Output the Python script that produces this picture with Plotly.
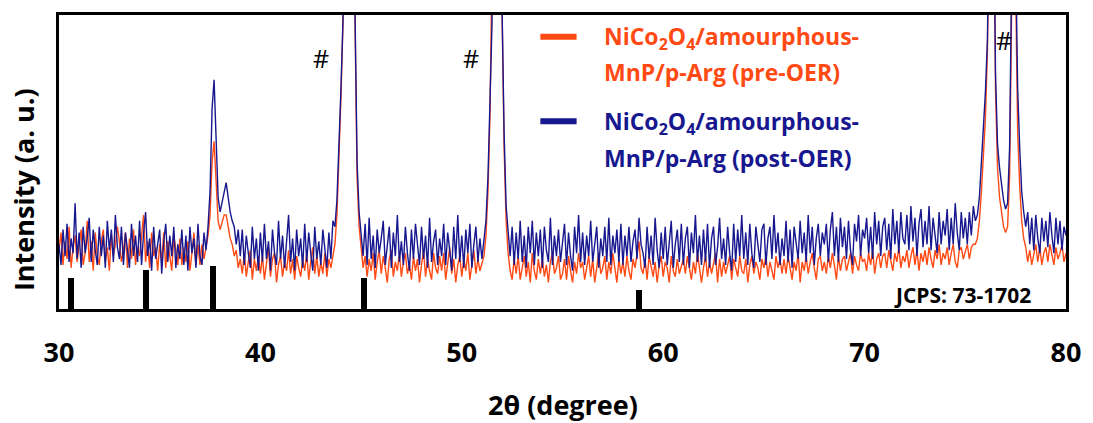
import numpy as np
import plotly.graph_objects as go

# 2-theta grid (degrees), 0.1 degree step
two_theta = np.round(np.arange(30.0, 80.0001, 0.1), 1)

# Intensity (a. u.), post-OER sample
post_oer = [
    22, 15, 27, 18, 29, 16, 24, 19, 36, 17,   # 30
    26, 14, 28, 19, 24, 31, 16, 27, 20, 15,   # 31
    28, 18, 25, 14, 30, 20, 27, 16, 32, 21,   # 32
    17, 28, 15, 26, 20, 14, 29, 18, 25, 16,   # 33
    30, 15, 26, 33, 18, 24, 13, 28, 17, 23,   # 34
    27, 12, 23, 29, 16, 25, 18, 28, 14, 22,   # 35
    17, 27, 15, 25, 13, 28, 19, 24, 14, 29,   # 36
    18, 15, 26, 20, 28, 40, 68, 78, 60, 38,   # 37
    33, 36, 40, 43, 38, 33, 30, 28, 22, 27,   # 38
    18, 27, 15, 25, 19, 14, 28, 17, 24, 13,   # 39
    26, 16, 29, 17, 23, 13, 27, 19, 15, 30,   # 40
    17, 25, 14, 22, 32, 16, 24, 13, 27, 18,   # 41
    24, 14, 29, 16, 26, 19, 13, 28, 17, 23,   # 42
    15, 27, 19, 14, 26, 17, 30, 28, 37, 55,   # 43
    75, 98, 180, 260, 280, 240, 150, 90, 50, 33,  # 44
    26, 18, 29, 15, 31, 17, 25, 14, 27, 19,   # 45
    24, 30, 15, 22, 28, 14, 26, 18, 32, 16,   # 46
    23, 15, 28, 19, 13, 27, 17, 29, 21, 15,   # 47
    28, 17, 25, 14, 31, 16, 23, 27, 15, 24,   # 48
    18, 29, 15, 26, 20, 13, 28, 17, 32, 16,   # 49
    25, 14, 27, 19, 29, 14, 22, 28, 16, 24,   # 50
    17, 24, 30, 45, 70, 97, 180, 260, 270, 220,  # 51
    102, 60, 35, 26, 18, 28, 15, 26, 17, 30,  # 52
    16, 25, 14, 28, 19, 30, 15, 26, 18, 27,   # 53
    14, 28, 20, 16, 31, 15, 25, 18, 27, 16,   # 54
    22, 29, 15, 26, 18, 13, 28, 19, 32, 16,   # 55
    26, 15, 25, 18, 30, 16, 22, 28, 14, 24,   # 56
    18, 28, 16, 31, 15, 25, 19, 27, 16, 29,   # 57
    15, 25, 18, 28, 16, 23, 27, 17, 31, 22,   # 58
    19, 14, 28, 17, 25, 15, 31, 20, 14, 26,   # 59
    17, 28, 15, 24, 30, 14, 22, 27, 16, 29,   # 60
    15, 24, 28, 14, 26, 19, 32, 16, 25, 15,   # 61
    27, 16, 29, 14, 24, 28, 15, 21, 31, 17,   # 62
    24, 15, 28, 19, 13, 29, 16, 27, 18, 32,   # 63
    17, 26, 15, 29, 19, 14, 28, 22, 16, 27,   # 64
    29, 15, 24, 28, 17, 32, 19, 26, 15, 24,   # 65
    18, 30, 16, 27, 14, 28, 22, 17, 30, 19,   # 66
    26, 16, 32, 19, 28, 15, 24, 29, 18, 26,   # 67
    22, 29, 16, 27, 33, 18, 28, 16, 31, 21,   # 68
    28, 17, 30, 20, 15, 29, 23, 32, 18, 27,   # 69
    24, 31, 19, 28, 17, 33, 22, 30, 18, 28,   # 70
    31, 20, 29, 17, 34, 22, 30, 19, 33, 24,   # 71
    22, 32, 20, 35, 23, 31, 18, 29, 34, 21,   # 72
    30, 22, 35, 20, 31, 25, 19, 33, 22, 30,   # 73
    25, 34, 20, 31, 22, 36, 26, 20, 33, 24,   # 74
    31, 22, 33, 25, 35, 30, 32, 38, 50, 62,   # 75
    74, 92, 150, 200, 150, 80, 56, 48, 42, 37,  # 76
    34, 36, 55, 110, 170, 120, 75, 55, 40, 33,  # 77
    28, 33, 22, 31, 20, 32, 24, 19, 31, 23,   # 78
    30, 21, 33, 25, 19, 31, 22, 30, 20, 28,   # 79
    25,                                       # 80
]

# Intensity (a. u.), pre-OER sample
pre_oer = [
    20, 26, 15, 23, 17, 28, 14, 21, 25, 16,   # 30
    22, 27, 15, 19, 30, 16, 23, 13, 26, 18,   # 31
    15, 23, 27, 16, 21, 13, 25, 18, 22, 28,   # 32
    23, 16, 20, 26, 14, 24, 17, 27, 15, 21,   # 33
    18, 25, 32, 16, 23, 14, 26, 18, 21, 13,   # 34
    22, 16, 26, 14, 23, 18, 13, 25, 20, 15,   # 35
    24, 15, 21, 16, 23, 13, 19, 26, 15, 22,   # 36
    15, 22, 17, 21, 25, 32, 50, 57, 45, 30,   # 37
    27, 30, 32, 32, 28, 24, 22, 18, 20, 14,   # 38
    17, 12, 19, 11, 16, 20, 10, 17, 13, 18,   # 39
    12, 18, 10, 16, 21, 11, 17, 19, 9, 15,    # 40
    18, 11, 16, 13, 20, 12, 17, 10, 18, 14,   # 41
    11, 17, 13, 19, 10, 16, 21, 12, 18, 11,   # 42
    16, 12, 19, 11, 17, 14, 18, 22, 32, 50,   # 43
    72, 97, 180, 260, 280, 240, 150, 88, 45, 28,  # 44
    20, 14, 18, 11, 17, 13, 19, 10, 16, 20,   # 45
    12, 18, 14, 9, 17, 20, 11, 16, 13, 19,    # 46
    11, 16, 19, 12, 15, 10, 18, 13, 17, 9,    # 47
    15, 20, 11, 17, 13, 10, 19, 14, 12, 18,   # 48
    13, 19, 10, 16, 21, 12, 17, 9, 15, 18,    # 49
    11, 17, 13, 19, 10, 15, 20, 12, 17, 13,   # 50
    16, 18, 25, 40, 66, 96, 180, 260, 270, 220,  # 51
    101, 55, 30, 19, 13, 10, 17, 12, 18, 10,  # 52
    14, 18, 11, 16, 9, 19, 13, 10, 17, 12,    # 53
    17, 11, 15, 9, 16, 19, 12, 14, 18, 10,    # 54
    12, 17, 10, 18, 13, 9, 16, 12, 19, 14,    # 55
    16, 10, 14, 18, 11, 17, 9, 15, 19, 12,    # 56
    14, 18, 10, 16, 12, 19, 13, 9, 17, 12,    # 57
    16, 11, 18, 13, 10, 17, 14, 19, 23, 14,   # 58
    12, 17, 10, 18, 14, 11, 16, 9, 15, 18,    # 59
    11, 16, 14, 9, 18, 13, 11, 17, 12, 15,    # 60
    17, 12, 18, 14, 10, 16, 12, 19, 14, 9,    # 61
    14, 18, 11, 16, 12, 15, 19, 9, 17, 11,    # 62
    16, 12, 15, 18, 10, 17, 14, 11, 18, 13,   # 63
    12, 17, 9, 15, 18, 12, 16, 14, 10, 17,    # 64
    14, 18, 11, 16, 13, 10, 18, 14, 17, 12,   # 65
    17, 12, 18, 14, 10, 16, 13, 19, 9, 16,    # 66
    13, 18, 12, 16, 19, 14, 10, 17, 18, 13,   # 67
    16, 12, 18, 14, 19, 15, 10, 18, 13, 17,   # 68
    18, 13, 16, 19, 12, 18, 15, 13, 19, 16,   # 69
    17, 13, 19, 15, 20, 12, 17, 19, 14, 18,   # 70
    19, 14, 20, 16, 13, 19, 16, 21, 14, 18,   # 71
    16, 20, 14, 18, 21, 15, 20, 13, 19, 16,   # 72
    20, 15, 21, 17, 14, 20, 17, 22, 15, 19,   # 73
    17, 21, 15, 19, 22, 16, 14, 20, 21, 17,   # 74
    20, 22, 17, 21, 22, 22, 24, 30, 40, 52,   # 75
    65, 88, 150, 200, 150, 75, 48, 38, 32, 28,  # 76
    26, 28, 45, 105, 160, 110, 60, 42, 30, 24,  # 77
    21, 16, 20, 15, 19, 22, 16, 21, 15, 19,   # 78
    21, 16, 22, 18, 15, 21, 17, 19, 22, 16,   # 79
    19,                                       # 80
]

# JCPDS 73-1702 reference sticks
jcpds_pos = [30.6, 34.3, 37.65, 45.15, 58.8]
jcpds_int = [10.5, 13.2, 14.5, 10.5, 6.6]

# '#' marker positions (substrate peaks)
hash_x = [43.03, 50.48, 76.94]
hash_y = [85.5, 85.5, 91.5]

ORANGE = "#FF4A14"
BLUE = "#17178F"
FONT = "Open Sans"

fig = go.Figure()
fig.add_trace(go.Scatter(x=two_theta, y=pre_oer, mode="lines",
                         line=dict(color=ORANGE, width=1.4), showlegend=False))
fig.add_trace(go.Scatter(x=two_theta, y=post_oer, mode="lines",
                         line=dict(color=BLUE, width=1.4), showlegend=False))
fig.add_trace(go.Bar(x=jcpds_pos, y=jcpds_int, width=0.3,
                     marker=dict(color="black", line=dict(width=0)),
                     showlegend=False))

for hx, hy in zip(hash_x, hash_y):
    fig.add_annotation(x=hx, y=hy, xref="x", yref="y", text="#", showarrow=False,
                       font=dict(family=FONT, size=25, color="black"))

# legend (manual)
legend_rows = [
    ("NiCo<sub>2</sub>O<sub>4</sub>/amourphous-", 0.922, ORANGE),
    ("MnP/p-Arg (pre-OER)", 0.805, ORANGE),
    ("NiCo<sub>2</sub>O<sub>4</sub>/amourphous-", 0.635, BLUE),
    ("MnP/p-Arg (post-OER)", 0.514, BLUE),
]
for txt, yy, col in legend_rows:
    fig.add_annotation(x=0.539, y=yy, xref="paper", yref="paper", text=txt,
                       showarrow=False, xanchor="left", yanchor="middle",
                       font=dict(family=FONT, size=23, color=col, weight="bold"))
for yy, col in [(0.926, ORANGE), (0.639, BLUE)]:
    fig.add_shape(type="line", xref="paper", yref="paper", x0=0.478, x1=0.514,
                  y0=yy, y1=yy, line=dict(color=col, width=6))

fig.add_annotation(x=0.897, y=0.047, xref="paper", yref="paper", text="JCPS: 73-1702",
                   showarrow=False, xanchor="center", yanchor="middle",
                   font=dict(family=FONT, size=21, color="black", weight="bold"))

# axis titles
fig.add_annotation(x=0.5, y=-0.324, xref="paper", yref="paper", text="2θ (degree)",
                   showarrow=False, xanchor="center", yanchor="middle",
                   font=dict(family=FONT, size=27, color="black", weight="bold"))
fig.add_annotation(x=-0.0346, y=0.405, xref="paper", yref="paper", text="Intensity (a. u.)",
                   showarrow=False, xanchor="center", yanchor="middle", textangle=-90,
                   font=dict(family=FONT, size=27, color="black", weight="bold"))

fig.update_layout(
    width=1093, height=423,
    margin=dict(l=59, r=21, t=13, b=114),
    paper_bgcolor="white", plot_bgcolor="white",
    bargap=0,
    xaxis=dict(range=[30, 80], tickvals=[30, 40, 50, 60, 70, 80],
               showline=True, mirror=True, linecolor="black", linewidth=2.5,
               showgrid=False, zeroline=False, ticks="",
               ticklabelstandoff=18,
               tickfont=dict(family=FONT, size=27, color="black", weight="bold")),
    yaxis=dict(range=[0, 100], showticklabels=False,
               showline=True, mirror=True, linecolor="black", linewidth=2.5,
               showgrid=False, zeroline=False, ticks=""),
)

fig.write_html("out.html")
